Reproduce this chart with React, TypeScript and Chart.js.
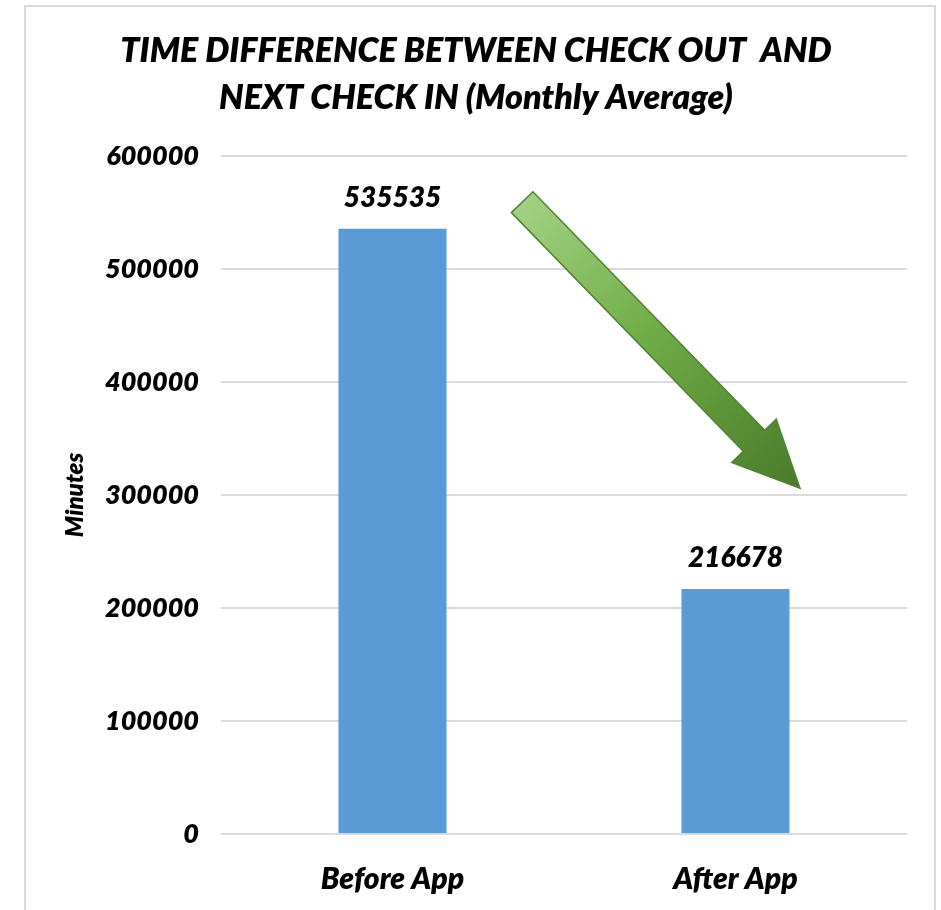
import React, { useEffect, useRef } from "react";
import { Chart, registerables } from "chart.js";

Chart.register(...registerables);

const titleLines = ["TIME DIFFERENCE BETWEEN CHECK OUT  AND", "NEXT CHECK IN (Monthly Average)"];
const categories = ["Before App", "After App"];
const minutesValues = [535535, 216678];
const yTickMin = 0;
const yTickMax = 600000;
const yTickStep = 100000;
const yAxisTitle = "Minutes";
// Trend arrow, in axis units: [category index, value]
const arrowStart = [0.378, 559000];
const arrowEnd = [1.188, 306000];

const FONT = "Lato";
const WEIGHT = 800;

const framePlugin = {
  id: "frame",
  beforeDraw(chart: any) {
    const ctx = chart.ctx;
    ctx.save();
    ctx.fillStyle = "#ffffff";
    ctx.fillRect(0, 0, chart.width, chart.height);
    ctx.strokeStyle = "#d9d9d9";
    ctx.lineWidth = 2;
    ctx.strokeRect(25, 6, 910, 920);
    ctx.restore();
  },
};

const labelPlugin = {
  id: "valueLabels",
  afterDatasetsDraw(chart: any) {
    const ctx = chart.ctx;
    const meta = chart.getDatasetMeta(0);
    ctx.save();
    ctx.fillStyle = "#000000";
    ctx.font = `italic ${WEIGHT} 28px ${FONT}`;
    ctx.textAlign = "center";
    ctx.textBaseline = "middle";
    meta.data.forEach((bar: any, i: number) => {
      ctx.fillText(String(chart.data.datasets[0].data[i]), bar.x, bar.y - 31);
    });
    ctx.restore();
  },
};

const arrowPlugin = {
  id: "trendArrow",
  afterDatasetsDraw(chart: any) {
    const xs = chart.scales.x;
    const ys = chart.scales.y;
    const x0 = xs.getPixelForValue(arrowStart[0]);
    const y0 = ys.getPixelForValue(arrowStart[1]);
    const x1 = xs.getPixelForValue(arrowEnd[0]);
    const y1 = ys.getPixelForValue(arrowEnd[1]);
    const dx = x1 - x0;
    const dy = y1 - y0;
    const len = Math.sqrt(dx * dx + dy * dy);
    const ux = dx / len;
    const uy = dy / len;
    const px = -uy;
    const py = ux;
    const shaftHalf = 15;
    const headHalf = 31;
    const headLen = 66;
    const bx = x1 - ux * headLen;
    const by = y1 - uy * headLen;
    const ctx = chart.ctx;
    ctx.save();
    const grad = ctx.createLinearGradient(x0, y0, x1, y1);
    grad.addColorStop(0, "#a3d184");
    grad.addColorStop(0.45, "#70ad47");
    grad.addColorStop(1, "#4a7a2b");
    ctx.beginPath();
    ctx.moveTo(x0 + px * shaftHalf, y0 + py * shaftHalf);
    ctx.lineTo(bx + px * shaftHalf, by + py * shaftHalf);
    ctx.lineTo(bx + px * headHalf, by + py * headHalf);
    ctx.lineTo(x1, y1);
    ctx.lineTo(bx - px * headHalf, by - py * headHalf);
    ctx.lineTo(bx - px * shaftHalf, by - py * shaftHalf);
    ctx.lineTo(x0 - px * shaftHalf, y0 - py * shaftHalf);
    ctx.closePath();
    ctx.fillStyle = grad;
    ctx.fill();
    ctx.strokeStyle = "#548235";
    ctx.lineWidth = 1.5;
    ctx.lineJoin = "miter";
    ctx.stroke();
    ctx.restore();
  },
};

export default function App() {
  const ref = useRef<HTMLCanvasElement>(null);

  useEffect(() => {
    if (!ref.current) return;
    const chart = new Chart(ref.current, {
      type: "bar",
      data: {
        labels: categories,
        datasets: [
          {
            label: yAxisTitle,
            data: minutesValues,
            backgroundColor: "#5b9bd5",
            barPercentage: 0.315,
            categoryPercentage: 1,
          },
        ],
      },
      options: {
        responsive: false,
        animation: false,
        layout: { padding: { top: 0, left: 26, right: 15, bottom: 0 } },
        plugins: {
          legend: { display: false },
          tooltip: { enabled: false },
          title: {
            display: true,
            text: titleLines,
            color: "#000000",
            font: { family: FONT, size: 34, weight: WEIGHT, style: "italic", lineHeight: 1.365 },
            padding: { top: 28, bottom: 35 },
          },
        },
        scales: {
          x: {
            grid: { display: false, drawTicks: false },
            border: { display: false },
            ticks: {
              color: "#000000",
              padding: 27,
              font: { family: FONT, size: 30, weight: WEIGHT, style: "italic" },
            },
            afterFit(scale: any) {
              scale.height = 76;
            },
          },
          y: {
            min: yTickMin,
            max: yTickMax,
            grid: { color: "#d9d9d9", lineWidth: 2, drawTicks: false },
            border: { display: false },
            ticks: {
              stepSize: yTickStep,
              color: "#000000",
              padding: 22,
              font: { family: FONT, size: 27, weight: WEIGHT, style: "italic" },
              callback: (v: any) => String(v),
            },
            title: {
              display: true,
              text: yAxisTitle,
              color: "#000000",
              font: { family: FONT, size: 24, weight: WEIGHT, style: "italic", lineHeight: 1.2 },
              padding: { top: 35, bottom: 0 },
            },
            afterFit(scale: any) {
              scale.width = 195;
            },
          },
          spacer: {
            type: "linear",
            position: "right",
            display: true,
            grid: { display: false, drawTicks: false },
            border: { display: false },
            ticks: { display: false },
            afterFit(scale: any) {
              scale.width = 19;
            },
          },
        },
      },
      plugins: [framePlugin, arrowPlugin, labelPlugin],
    });
    return () => chart.destroy();
  }, []);

  return (
    <div style={{ position: "absolute", left: 0, top: 0, width: 941, height: 910 }}>
      <canvas ref={ref} width={941} height={910} style={{ width: 941, height: 910, display: "block" }} />
    </div>
  );
}
